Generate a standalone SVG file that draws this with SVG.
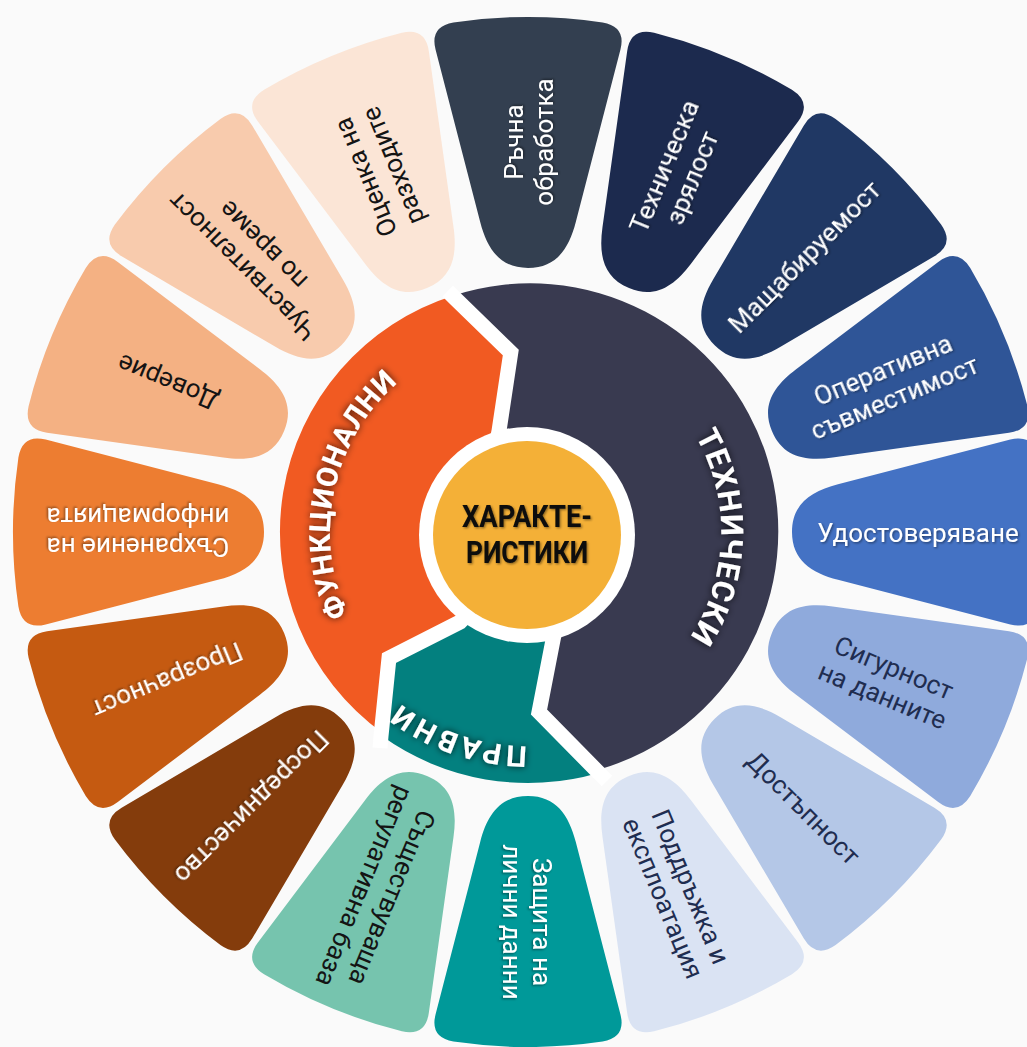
<svg xmlns="http://www.w3.org/2000/svg" xmlns:xlink="http://www.w3.org/1999/xlink" width="1027" height="1047" viewBox="0 0 1027 1047">
<defs>
<style>
.pt{font-family:Roboto,"Liberation Sans",sans-serif;font-size:26px;text-anchor:middle}
.w{fill:#ffffff}.k{fill:#141414}.n{fill:#1F2D50}
.ring{font-family:Roboto,"Liberation Sans",sans-serif;font-weight:700;fill:#ffffff}
.gap{fill:none;stroke:#ffffff;stroke-width:15;stroke-linejoin:miter}
.ctr{font-family:Roboto,"Liberation Sans",sans-serif;font-weight:700;font-size:31px;fill:#0a0a0a;text-anchor:middle}
</style>
<path id="petal" d="M310,-47.8 L482.3,-92.4 Q505.5,-98.4 509.6,-74.6 A515,515 0 0 1 509.6,74.6 Q505.5,98.4 482.3,92.4 L310,47.8 C282.9,40.8 264,28 264,0 C264,-28 282.9,-40.8 310,-47.8 Z"/>
<path id="arcF" d="M428.4,703.1 A198,198 0 0 1 508,335"/>
<path id="arcT" d="M593.2,350.3 A193,193 0 0 1 582,717.3"/>
<path id="arcP" d="M668.7,693.3 A214,214 0 0 1 318,573.2"/>
<filter id="ts" x="-20%" y="-50%" width="140%" height="200%">
<feDropShadow dx="1.2" dy="1.2" stdDeviation="0.9" flood-color="#000" flood-opacity="0.45"/>
</filter>
<filter id="rs" x="-30%" y="-30%" width="160%" height="160%">
<feDropShadow dx="0" dy="0" stdDeviation="3.5" flood-color="#000" flood-opacity="0.85"/>
</filter>
</defs>
<rect x="0" y="0" width="1027" height="1047" fill="#FAFAFA"/>

<g id="petals">
<g id="p-udostoveryavane" transform="translate(528 532) rotate(0)"><use xlink:href="#petal" fill="#4472C4"/><text class="pt w" filter="url(#ts)"><tspan x="390" y="9.5">Удостоверяване</tspan></text></g>
<g id="p-sigurnost" transform="translate(528 532) rotate(22.5)"><use xlink:href="#petal" fill="#8FAADC"/><text class="pt n"><tspan x="390" y="-5.5">Сигурност</tspan><tspan x="390" y="24.5">на данните</tspan></text></g>
<g id="p-dostapnost" transform="translate(528 532) rotate(45)"><use xlink:href="#petal" fill="#B4C7E7"/><text class="pt n"><tspan x="390" y="9.5">Достъпност</tspan></text></g>
<g id="p-poddrazhka" transform="translate(528 532) rotate(67.5)"><use xlink:href="#petal" fill="#DAE3F3"/><text class="pt n"><tspan x="390" y="-5.5">Поддръжка и</tspan><tspan x="390" y="24.5">експлоатация</tspan></text></g>
<g id="p-zashtita" transform="translate(528 532) rotate(90)"><use xlink:href="#petal" fill="#009999"/><text class="pt w" filter="url(#ts)"><tspan x="390" y="-5.5">Защита на</tspan><tspan x="390" y="24.5">лични данни</tspan></text></g>
<g id="p-sashtestvuvashta" transform="translate(528 532) rotate(112.5)"><use xlink:href="#petal" fill="#76C4AE"/><text class="pt k"><tspan x="390" y="-5.5">Съществуваща</tspan><tspan x="390" y="24.5">регулативна база</tspan></text></g>
<g id="p-posrednichestvo" transform="translate(528 532) rotate(135)"><use xlink:href="#petal" fill="#843C0C"/><text class="pt w" filter="url(#ts)"><tspan x="390" y="9.5">Посредничество</tspan></text></g>
<g id="p-prozrachnost" transform="translate(528 532) rotate(157.5)"><use xlink:href="#petal" fill="#C55A11"/><text class="pt w" filter="url(#ts)"><tspan x="390" y="9.5">Прозрачност</tspan></text></g>
<g id="p-sahranenie" transform="translate(528 532) rotate(180)"><use xlink:href="#petal" fill="#ED7D31"/><text class="pt w" filter="url(#ts)"><tspan x="390" y="-5.5">Съхранение на</tspan><tspan x="390" y="24.5">информацията</tspan></text></g>
<g id="p-doverie" transform="translate(528 532) rotate(202.5)"><use xlink:href="#petal" fill="#F4B183"/><text class="pt k"><tspan x="390" y="9.5">Доверие</tspan></text></g>
<g id="p-chuvstvitelnost" transform="translate(528 532) rotate(225)"><use xlink:href="#petal" fill="#F8CBAD"/><text class="pt k"><tspan x="390" y="-5.5">Чувствителност</tspan><tspan x="390" y="24.5">по време</tspan></text></g>
<g id="p-otsenka" transform="translate(528 532) rotate(247.5)"><use xlink:href="#petal" fill="#FBE5D6"/><text class="pt k"><tspan x="390" y="-5.5">Оценка на</tspan><tspan x="390" y="24.5">разходите</tspan></text></g>
<g id="p-rachna" transform="translate(528 532) rotate(270)"><use xlink:href="#petal" fill="#333F50"/><text class="pt w" filter="url(#ts)"><tspan x="390" y="-5.5">Ръчна</tspan><tspan x="390" y="24.5">обработка</tspan></text></g>
<g id="p-tehnicheska" transform="translate(528 532) rotate(292.5)"><use xlink:href="#petal" fill="#1C2A4E"/><text class="pt w" filter="url(#ts)"><tspan x="390" y="-5.5">Техническа</tspan><tspan x="390" y="24.5">зрялост</tspan></text></g>
<g id="p-mashtabiruemost" transform="translate(528 532) rotate(315)"><use xlink:href="#petal" fill="#203864"/><text class="pt w" filter="url(#ts)"><tspan x="390" y="9.5">Мащабируемост</tspan></text></g>
<g id="p-operativna" transform="translate(528 532) rotate(337.5)"><use xlink:href="#petal" fill="#2F5597"/><text class="pt w" filter="url(#ts)"><tspan x="390" y="-5.5">Оперативна</tspan><tspan x="390" y="24.5">съвместимост</tspan></text></g>
</g>

<g id="seg-tehnicheski">
<path d="M453.8,295.4 A248,248 0 1 1 597.6,770 L539,712 L553,640 L528,532 L499,431 L510.8,352.5 Z" fill="#393A50"/>
<text class="ring" font-size="31" letter-spacing="1.3" filter="url(#rs)"><textPath xlink:href="#arcT" startOffset="50%" text-anchor="middle">ТЕХНИЧЕСКИ</textPath></text>
</g>
<g id="seg-funktsionalni">
<path d="M382.9,733.2 A248,248 0 0 1 453.8,295.4 L510.8,352.5 L499,431 L528,532 L460,622 L389,658 Z" fill="#F15A22"/>
<text class="ring" font-size="29" letter-spacing="0.8" filter="url(#rs)"><textPath xlink:href="#arcF" startOffset="50%" text-anchor="middle">ФУНКЦИОНАЛНИ</textPath></text>
</g>
<g id="seg-pravni">
<path d="M598.5,772.9 A251,251 0 0 1 381.2,735.6 L389,658 L460,622 L528,532 L553,640 L539,712 Z" fill="#03807F"/>
<text class="ring" font-size="29" letter-spacing="4" filter="url(#rs)"><textPath xlink:href="#arcP" startOffset="50%" text-anchor="middle">ПРАВНИ</textPath></text>
</g>

<g id="connectors">
<path class="gap" d="M447.7,291.2 L454.7,298 L510.8,352.5 L499,431 L494,455"/>
<path class="gap" d="M470,612 L460,622 L389,658 L381,736 L380,748"/>
<path class="gap" d="M556,625 L553,640 L539,712 L598,772 L607,781"/>
</g>

<g id="center">
<circle cx="527" cy="535" r="108" fill="#ffffff"/>
<circle cx="527" cy="535" r="94" fill="#F4B037"/>
<g filter="url(#ts)">
<text class="ctr" x="527" y="527" textLength="130" lengthAdjust="spacingAndGlyphs">ХАРАКТЕ-</text>
<text class="ctr" x="527" y="563" textLength="122" lengthAdjust="spacingAndGlyphs">РИСТИКИ</text>
</g>
</g>
</svg>
